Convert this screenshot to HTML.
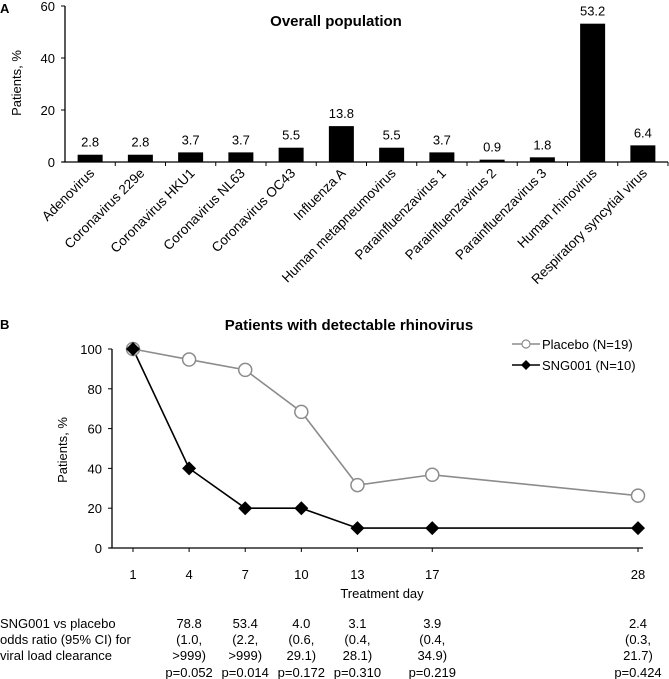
<!DOCTYPE html>
<html><head><meta charset="utf-8"><style>
html,body{margin:0;padding:0;background:#fff;}
svg{display:block;font-family:"Liberation Sans",Arial,sans-serif;}
</style></head><body>
<svg id="fig" width="669" height="679" viewBox="0 0 669 679" xmlns="http://www.w3.org/2000/svg"></svg>
<script>
const catsA = ["Adenovirus","Coronavirus 229e","Coronavirus HKU1","Coronavirus NL63","Coronavirus OC43","Influenza A","Human metapneumovirus","Parainfluenzavirus 1","Parainfluenzavirus 2","Parainfluenzavirus 3","Human rhinovirus","Respiratory syncytial virus"];
const valsA = [2.8,2.8,3.7,3.7,5.5,13.8,5.5,3.7,0.9,1.8,53.2,6.4];
const ticksA = [0,20,40,60];
const daysB = [1,4,7,10,13,17,28];
const placebo = [100,94.7,89.5,68.4,31.6,36.8,26.3];
const sng = [100,40,20,20,10,10,10];
const ticksB = [0,20,40,60,80,100];
const orVals = ["78.8","53.4","4.0","3.1","3.9","2.4"];
const ciLo = ["(1.0,","(2.2,","(0.6,","(0.4,","(0.4,","(0.3,"];
const ciHi = [">999)",">999)","29.1)","28.1)","34.9)","21.7)"];
const pVals = ["p=0.052","p=0.014","p=0.172","p=0.310","p=0.219","p=0.424"];
const orDays = [4,7,10,13,17,28];

const NS="http://www.w3.org/2000/svg";
const svg=document.getElementById('fig');
function mk(tag,attrs,parent){const e=document.createElementNS(NS,tag);for(const k in attrs)e.setAttribute(k,attrs[k]);(parent||svg).appendChild(e);return e;}
function txt(s,attrs,parent){const e=mk('text',attrs,parent);e.textContent=s;return e;}
const FS=13;

// ---- Panel A ----
const gA=mk('g',{});


const ax0=65, ax1=668, ay0=162, ay1=6;
const yA=v=>ay0+(ay1-ay0)*v/60;
const bw=(ax1-ax0)/catsA.length;
const xA=i=>ax0+bw*(i+0.5);
let t=txt('A',{x:0,y:13,'font-size':13,'font-weight':'bold'},gA);

t=txt('Overall population',{x:336,y:26,'font-size':15,'font-weight':'bold','text-anchor':'middle'},gA);

t=txt('Patients, %',{x:0,y:0,'font-size':FS,'text-anchor':'middle',transform:'translate(21,83) rotate(-90)'},gA);

let l=mk('line',{x1:ax0,y1:ay1,x2:ax0,y2:ay0,stroke:'#000','stroke-width':1.3},gA);

l=mk('line',{x1:ax0-3,y1:ay0,x2:ax1,y2:ay0,stroke:'#000','stroke-width':1.3},gA);

ticksA.forEach(v=>{
  mk('line',{x1:ax0-4,y1:yA(v),x2:ax0,y2:yA(v),stroke:'#000'},gA);
  const e=txt(String(v),{x:ax0-10,y:yA(v)+5,'font-size':FS,'text-anchor':'end'},gA);
  
});
for(let i=1;i<=catsA.length;i++) mk('line',{x1:ax0+bw*i,y1:ay0,x2:ax0+bw*i,y2:ay0+4,stroke:'#000'},gA);
catsA.forEach((c,i)=>{
  const r=mk('rect',{x:xA(i)-12.5,y:yA(valsA[i]),width:25,height:ay0-yA(valsA[i]),fill:'#000'},gA);
  
  
  const v=txt(valsA[i].toFixed(1),{x:xA(i),y:yA(valsA[i])-8,'font-size':FS,'text-anchor':'middle'},gA);
  
  const lb=txt(c,{x:0,y:0,'font-size':13.5,'text-anchor':'end',transform:`translate(${xA(i)+5},${ay0+12}) rotate(-45)`},gA);
  
});

// ---- Panel B ----
const gB=mk('g',{});


const bx0=112, bx1=643, by0=548, by1=349;
const xB=d=>133+(638-133)*(d-1)/27;
const yB=v=>by0+(by1-by0)*v/100;
t=txt('B',{x:0,y:329,'font-size':13,'font-weight':'bold'},gB);

t=txt('Patients with detectable rhinovirus',{x:349,y:330,'font-size':15,'font-weight':'bold','text-anchor':'middle'},gB);

t=txt('Patients, %',{x:0,y:0,'font-size':FS,'text-anchor':'middle',transform:'translate(67,450) rotate(-90)'},gB);

l=mk('line',{x1:bx0,y1:by1,x2:bx0,y2:by0,stroke:'#000','stroke-width':1.3},gB);

l=mk('line',{x1:bx0-3,y1:by0,x2:bx1,y2:by0,stroke:'#000','stroke-width':1.3},gB);

ticksB.forEach(v=>{
  mk('line',{x1:bx0-4,y1:yB(v),x2:bx0,y2:yB(v),stroke:'#000'},gB);
  const e=txt(String(v),{x:bx0-10,y:yB(v)+5,'font-size':FS,'text-anchor':'end'},gB);
  
});
daysB.forEach(d=>{
  mk('line',{x1:xB(d),y1:by0,x2:xB(d),y2:by0+4,stroke:'#000'},gB);
  const e=txt(String(d),{x:xB(d),y:579,'font-size':FS,'text-anchor':'middle'},gB);
  
});
t=txt('Treatment day',{x:382,y:598,'font-size':FS,'text-anchor':'middle'},gB);


let pl=mk('polyline',{points:daysB.map((d,i)=>xB(d)+','+yB(placebo[i])).join(' '),fill:'none',stroke:'#8c8c8c','stroke-width':1.6},gB);

let sl=mk('polyline',{points:daysB.map((d,i)=>xB(d)+','+yB(sng[i])).join(' '),fill:'none',stroke:'#000','stroke-width':1.6},gB);

daysB.forEach((d,i)=>{
  const c=mk('circle',{cx:xB(d),cy:yB(placebo[i]),r:6.5,fill:'#fff',stroke:'#8c8c8c','stroke-width':1.5},gB);
  
});
daysB.forEach((d,i)=>{
  const x=xB(d),y=yB(sng[i]);
  const p=mk('polygon',{points:`${x},${y-7} ${x+7},${y} ${x},${y+7} ${x-7},${y}`,fill:'#000'},gB);
  
});
// legend
const lg=mk('g',{},gB);

mk('line',{x1:512,y1:344,x2:540,y2:344,stroke:'#8c8c8c','stroke-width':1.5},lg);
let lc=mk('circle',{cx:526,cy:344,r:4,fill:'#fff',stroke:'#8c8c8c','stroke-width':1.2},lg);

t=txt('Placebo (N=19)',{x:542,y:349,'font-size':FS},lg);

mk('line',{x1:512,y1:365,x2:540,y2:365,stroke:'#000','stroke-width':1.5},lg);
let ld=mk('polygon',{points:'526,360 531,365 526,370 521,365',fill:'#000'},lg);

t=txt('SNG001 (N=10)',{x:542,y:370,'font-size':FS},lg);


// table
const tb=mk('g',{},gB);

const rowsY=[628,644,660,677];
["SNG001 vs placebo","odds ratio (95% CI) for","viral load clearance"].forEach((s,i)=>{
  const e=txt(s,{x:0,y:rowsY[i],'font-size':FS},tb);
  
});
orDays.forEach((d,i)=>{
  [orVals[i],ciLo[i],ciHi[i],pVals[i]].forEach((s,j)=>{
    const e=txt(s,{x:xB(d),y:rowsY[j],'font-size':FS,'text-anchor':'middle'},tb);
    
  });
});
</script>
</body></html>
